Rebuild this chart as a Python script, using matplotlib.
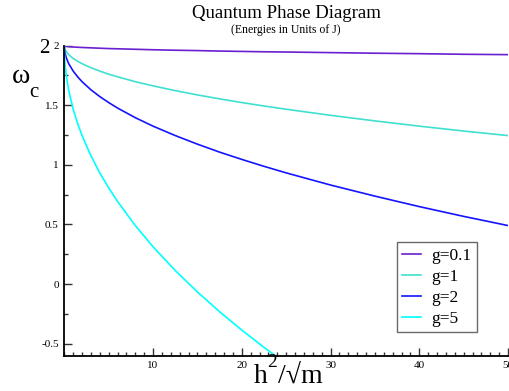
import numpy as np
import matplotlib
matplotlib.use("Agg")
import matplotlib.pyplot as plt
from matplotlib.ticker import MultipleLocator

plt.rcParams['font.family'] = ['Liberation Serif', 'DejaVu Serif']

# valores
x = [0, 0.02, 0.05, 0.1, 0.25, 0.5, 1, 1.5, 2, 3, 4, 5, 6, 8, 10, 12.5, 15,
     17.5, 20, 22.5, 25, 30, 35, 40, 45, 50]
g01 = [2.000, 1.998, 1.998, 1.997, 1.995, 1.992, 1.989, 1.987, 1.985, 1.982,
       1.979, 1.976, 1.974, 1.970, 1.966, 1.962, 1.959, 1.955, 1.952, 1.949,
       1.947, 1.942, 1.937, 1.933, 1.928, 1.925]
g1 = [2.000, 1.985, 1.976, 1.966, 1.947, 1.925, 1.893, 1.869, 1.849, 1.815,
      1.787, 1.761, 1.739, 1.698, 1.663, 1.623, 1.587, 1.554, 1.523, 1.494,
      1.467, 1.416, 1.369, 1.325, 1.284, 1.246]
g2 = [2.000, 1.970, 1.952, 1.933, 1.893, 1.849, 1.787, 1.739, 1.698, 1.630,
      1.573, 1.523, 1.477, 1.396, 1.325, 1.246, 1.174, 1.107, 1.046, 0.988,
      0.933, 0.831, 0.738, 0.650, 0.568, 0.491]
x5 = [0, 0.02, 0.05, 0.1, 0.25, 0.5, 1, 1.5, 2, 3, 4, 5, 6, 8, 10, 12.5, 15,
      17.5, 20, 22.5, 25]
g5 = [2.000, 1.925, 1.881, 1.831, 1.733, 1.623, 1.467, 1.347, 1.246, 1.076,
      0.933, 0.807, 0.693, 0.491, 0.313, 0.114, -0.066, -0.232, -0.386,
      -0.531, -0.668]

series = [
    (x, g01, 'g=0.1', '#6a1fd0'),
    (x, g1, 'g=1', '#40e0d0'),
    (x, g2, 'g=2', '#1414ff'),
    (x5, g5, 'g=5', '#00ffff'),
]

fig = plt.figure(figsize=(5.09, 3.91), dpi=100)
W, H = 509, 391
ax = fig.add_axes([64.3 / W, 1 - 355.7 / H, (508 - 64.3) / W, (355.7 - 45.7) / H])

for xs, ys, lab, cor in series:
    ax.plot(xs, ys, color=cor, lw=1.2, label=lab)

ax.set_xlim(0, 50)
ax.set_ylim(-0.601, 2.0)

ax.spines['top'].set_visible(False)
ax.spines['right'].set_visible(False)
ax.spines['left'].set_linewidth(1.3)
ax.spines['bottom'].set_linewidth(1.3)

ax.xaxis.set_major_locator(MultipleLocator(10))
ax.xaxis.set_minor_locator(MultipleLocator(1))
ax.yaxis.set_major_locator(MultipleLocator(0.5))
ax.yaxis.set_minor_locator(MultipleLocator(0.25))
ax.tick_params(which='both', direction='in', labelsize=8, width=1, color='#333333')
ax.tick_params(which='major', length=6)
ax.tick_params(which='minor', length=3)
ax.set_xticks([10, 20, 30, 40, 50])
ax.set_xticklabels(['10', '20', '30', '40', '50'])
ax.set_yticks([-0.5, 0, 0.5, 1, 1.5, 2])
ax.set_yticklabels(['-0.5', '0', '0.5', '1', '1.5', '2'])
ax.tick_params(axis='x', pad=4)
ax.tick_params(axis='y', pad=4)

leg = ax.legend(loc='lower right', bbox_to_anchor=((477 - 64.3) / (508 - 64.3), (355.7 - 332) / 310),
                frameon=True, fancybox=False, fontsize=12.5, handlelength=1.1,
                handletextpad=0.6, borderpad=0.3, labelspacing=0.28, borderaxespad=0)
leg.get_frame().set_edgecolor('#444444')
leg.get_frame().set_linewidth(1)

# titulos
fig.text(286 / W, 1 - 13 / H, 'Quantum Phase Diagram', ha='center', va='center', fontsize=13.5)
fig.text(286 / W, 1 - 30 / H, '(Energies in Units of J)', ha='center', va='center', fontsize=8.5)

# rotulo do eixo y (estilo grace)
fig.text(12 / W, 1 - 83 / H, '\u03c9', fontsize=20, ha='left', va='baseline')
fig.text(29 / W, 1 - 97 / H, 'c', fontsize=15, ha='left', va='baseline')
fig.text(39 / W, 1 - 53 / H, '2', fontsize=15, ha='left', va='baseline')

# rotulo do eixo x
fig.text(254 / W, 1 - 383 / H, 'h', fontsize=20, ha='left', va='baseline')
fig.text(267 / W, 1 - 367 / H, '2', fontsize=14, ha='left', va='baseline')
fig.text(278 / W, 1 - 383 / H, '/\u221am', fontsize=20, ha='left', va='baseline')

fig.savefig('out.png', dpi=100)
